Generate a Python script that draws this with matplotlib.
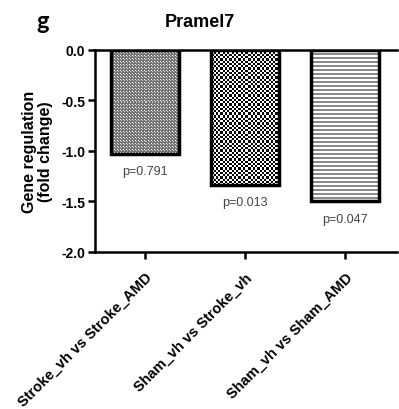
import matplotlib
matplotlib.use('Agg')
import matplotlib.pyplot as plt
import numpy as np

plt.rcParams['font.family'] = ['Liberation Sans', 'DejaVu Sans']

# data
comparisons = ['Stroke_vh vs Stroke_AMD', 'Sham_vh vs Stroke_vh', 'Sham_vh vs Sham_AMD']
fold_change = [-1.03, -1.34, -1.50]
p_labels = ['p=0.791', 'p=0.013', 'p=0.047']
y_ticks = [0.0, -0.5, -1.0, -1.5, -2.0]

fig = plt.figure(figsize=(3.99, 4.10), dpi=100)
ax = fig.add_axes([0.238, 0.383, 0.757, 0.493])

x = np.arange(len(comparisons))
bars = ax.bar(x, fold_change, width=0.68, facecolor='none', edgecolor='black',
              linewidth=2.5, zorder=3)

ax.set_xlim(-0.5, 2.52)
ax.set_ylim(-2.0, 0.0)
fig.canvas.draw()


def pattern_for(kind, nx, ny):
    yy, xx = np.mgrid[0:ny, 0:nx]
    if kind == 0:   # fine grey dots
        img = np.full((ny, nx), 0.45)
        img[(xx % 3 == 0) & (yy % 3 == 0)] = 1.0
        img[(xx % 3 == 1) & (yy % 3 == 1)] = 0.8
    elif kind == 1:  # coarse checker
        img = ((np.floor(xx / 2.25) + np.floor(yy / 2.25)) % 2).astype(float)
    else:            # horizontal lines
        img = np.where(yy % 4 < 2, 0.55, 1.0)
    return img


for i, b in enumerate(bars):
    bb = b.get_window_extent()
    nx = int(round(bb.width))
    ny = int(round(bb.height))
    img = pattern_for(i, nx, ny)
    x0, y0 = b.get_x(), b.get_y()
    ax.imshow(img, cmap='gray', vmin=0, vmax=1, interpolation='nearest',
              extent=[x0, x0 + b.get_width(), y0 + b.get_height(), y0],
              aspect='auto', zorder=2)

ax.set_xlim(-0.5, 2.52)
ax.set_ylim(-2.0, 0.0)

for i, (v, p) in enumerate(zip(fold_change, p_labels)):
    ax.text(x[i], v - 0.17, p, ha='center', va='center', fontsize=9,
            color='#444444')

ax.spines['right'].set_visible(False)
for s in ['left', 'bottom', 'top']:
    ax.spines[s].set_linewidth(1.8)
ax.tick_params(axis='x', length=5, width=1.8, top=False)
ax.tick_params(axis='y', length=5, width=1.8, right=False, pad=2)
ax.set_yticks(y_ticks)
ax.set_yticklabels(['%.1f' % t for t in y_ticks], fontsize=10, fontweight='bold')
ax.set_xticks(x)
ax.set_xticklabels(comparisons, rotation=45, ha='right', rotation_mode='anchor',
                   fontsize=10.5, fontweight='bold')
for lbl in ax.get_xticklabels():
    lbl.set_y(-0.03)

ax.set_ylabel('Gene regulation\n(fold change)', fontsize=11.5, fontweight='bold',
              labelpad=6, linespacing=1.1)

fig.text(0.5, 0.945, 'Pramel7', ha='center', va='center', fontsize=13,
         fontweight='bold')
fig.text(0.108, 0.948, 'g', ha='center', va='center', fontsize=17,
         fontweight='bold', family=['Lato', 'DejaVu Sans'])

fig.savefig('out.png', dpi=100)
